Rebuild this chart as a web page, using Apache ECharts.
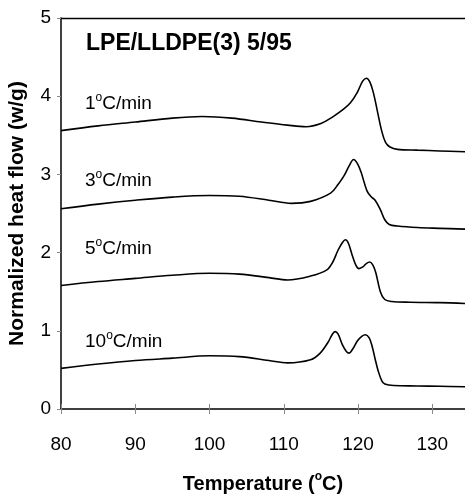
<!DOCTYPE html>
<html>
<head>
<meta charset="utf-8">
<script src="https://cdn.jsdelivr.net/npm/echarts@6/dist/echarts.min.js"></script>
<style>html,body{margin:0;padding:0;background:#fff}#c{width:465px;height:494px}</style>
</head>
<body>
<div id="c"></div>
<script>
var xTicks = [80, 90, 100, 110, 120, 130];
var yTicks = [0, 1, 2, 3, 4, 5];
var seriesNames = ['1°C/min', '3°C/min', '5°C/min', '10°C/min'];

var temp1 = [80, 85, 90, 95, 99, 103, 107, 110.5, 113, 115, 116.5, 118, 119, 119.9, 120.6, 121.1, 121.6, 122.1, 122.6, 123.2, 123.7, 124.3, 125.3, 128, 131, 134.4];
var flow1 = [3.56, 3.62, 3.67, 3.72, 3.74, 3.72, 3.67, 3.63, 3.61, 3.65, 3.73, 3.83, 3.92, 4.05, 4.19, 4.23, 4.18, 4.03, 3.81, 3.55, 3.41, 3.35, 3.32, 3.31, 3.30, 3.29];

var temp2 = [80, 85, 90, 95, 100, 104, 108, 111, 113.6, 116.3, 117.3, 118.1, 118.8, 119.4, 119.9, 120.4, 121.2, 121.8, 122.3, 123.0, 123.6, 124.2, 125.3, 128, 131, 134.4];
var flow2 = [2.56, 2.62, 2.67, 2.71, 2.73, 2.72, 2.67, 2.63, 2.655, 2.76, 2.87, 2.98, 3.11, 3.19, 3.14, 3.03, 2.79, 2.71, 2.67, 2.55, 2.42, 2.36, 2.34, 2.32, 2.31, 2.30];

var temp3 = [80, 85, 90, 95, 100, 104, 108, 110.5, 113.6, 115.8, 116.6, 117.3, 117.9, 118.3, 118.7, 119.2, 119.7, 120.1, 120.7, 121.1, 121.6, 122.0, 122.4, 123.0, 123.6, 124.5, 127, 131, 134.4];
var flow3 = [1.58, 1.63, 1.67, 1.71, 1.735, 1.725, 1.68, 1.65, 1.70, 1.78, 1.88, 2.03, 2.13, 2.165, 2.12, 1.97, 1.84, 1.795, 1.82, 1.86, 1.88, 1.84, 1.74, 1.50, 1.40, 1.375, 1.365, 1.36, 1.35];

var temp4 = [80, 85, 90, 95, 100, 104, 108, 110.5, 113.6, 114.9, 116.0, 116.5, 116.9, 117.3, 117.9, 118.4, 118.8, 119.3, 119.9, 120.5, 121.0, 121.5, 121.9, 122.3, 122.7, 123.2, 123.6, 124.8, 128, 131, 134.4];
var flow4 = [0.52, 0.575, 0.62, 0.65, 0.68, 0.67, 0.62, 0.59, 0.63, 0.715, 0.86, 0.95, 0.99, 0.96, 0.82, 0.74, 0.715, 0.77, 0.87, 0.93, 0.95, 0.91, 0.80, 0.64, 0.49, 0.36, 0.32, 0.30, 0.295, 0.29, 0.285];

var title = 'LPE/LLDPE(3) 5/95';

function pairs(t, v) { return t.map(function (x, i) { return [x, v[i]]; }); }
var FONT = '"Liberation Sans", Arial, sans-serif';

var chart = echarts.init(document.getElementById('c'), null, { renderer: 'canvas' });

function lineSeries(name, t, v) {
  return {
    name: name, type: 'line', data: pairs(t, v), smooth: 0.35, showSymbol: false,
    lineStyle: { color: '#000', width: 1.6 }, silent: true, animation: false, xAxisIndex: 0
  };
}

function supText(s) {
  var p = s.split('°');
  return '{n|' + p[0] + '}{s|o}{n|' + p[1] + '}';
}

function rateLabel(text, top) {
  return {
    type: 'text', left: 85, top: top,
    style: {
      text: supText(text), fill: '#000', font: '19px ' + FONT,
      rich: {
        n: { fontSize: 19, fontFamily: FONT, fill: '#000', lineHeight: 24 },
        s: { fontSize: 12, fontFamily: FONT, fill: '#000', lineHeight: 10, verticalAlign: 'top' }
      }
    }
  };
}

chart.setOption({
  animation: false,
  backgroundColor: '#fff',
  grid: { left: 61, right: 0, top: 18, bottom: 85, containLabel: false, outerBoundsMode: 'none' },
  xAxis: [{
    type: 'value', min: 80, max: 134.4, interval: 10, position: 'bottom',
    axisLine: { show: true, lineStyle: { color: '#000', width: 1.5 } },
    axisTick: { show: true, inside: false, length: 5, lineStyle: { color: '#888' } },
    axisLabel: { color: '#000', fontSize: 19, fontFamily: FONT, margin: 26, showMaxLabel: false,
      formatter: function (v) { return xTicks.indexOf(v) >= 0 ? String(v) : ''; } },
    splitLine: { show: false },
    name: supText('Temperature (°C)'), nameLocation: 'middle', nameGap: 62,
    nameTextStyle: { color: '#000', fontSize: 20, fontWeight: 'bold', fontFamily: FONT,
      rich: {
        n: { fontSize: 20, fontWeight: 'bold', fontFamily: FONT, color: '#000', lineHeight: 26 },
        s: { fontSize: 12, fontWeight: 'bold', fontFamily: FONT, color: '#000', lineHeight: 10, verticalAlign: 'top' }
      } }
  }, {
    type: 'value', min: 80, max: 134.4, interval: 10, position: 'top',
    axisLine: { show: true, lineStyle: { color: '#000', width: 1.3 } },
    axisTick: { show: false }, axisLabel: { show: false }, splitLine: { show: false }
  }, {
    type: 'value', min: 80, max: 134.4, interval: 10, position: 'bottom',
    axisLine: { show: false },
    axisTick: { show: true, inside: true, length: 5, lineStyle: { color: '#888' } },
    axisLabel: { show: false }, splitLine: { show: false }
  }],
  yAxis: [{
    type: 'value', min: 0, max: 5, interval: 1,
    axisLine: { show: true, lineStyle: { color: '#000', width: 1.5 } },
    axisTick: { show: true, inside: false, length: 4, lineStyle: { color: '#888' } },
    axisLabel: { color: '#000', fontSize: 19, fontFamily: FONT, margin: 10,
      formatter: function (v) { return yTicks.indexOf(v) >= 0 ? String(v) : ''; } },
    splitLine: { show: false },
    name: 'Normalized heat flow (w/g)', nameLocation: 'middle', nameGap: 33, nameRotate: 90,
    nameTextStyle: { color: '#000', fontSize: 21, fontWeight: 'bold', fontFamily: FONT }
  }],
  graphic: [
    { type: 'text', left: 86, top: 32, style: { text: title, fill: '#000', font: 'bold 23px ' + FONT } },
    rateLabel(seriesNames[0], 92),
    rateLabel(seriesNames[1], 169),
    rateLabel(seriesNames[2], 237),
    rateLabel(seriesNames[3], 330)
  ],
  series: [
    lineSeries(seriesNames[0], temp1, flow1),
    lineSeries(seriesNames[1], temp2, flow2),
    lineSeries(seriesNames[2], temp3, flow3),
    lineSeries(seriesNames[3], temp4, flow4)
  ]
});
</script>
</body>
</html>
